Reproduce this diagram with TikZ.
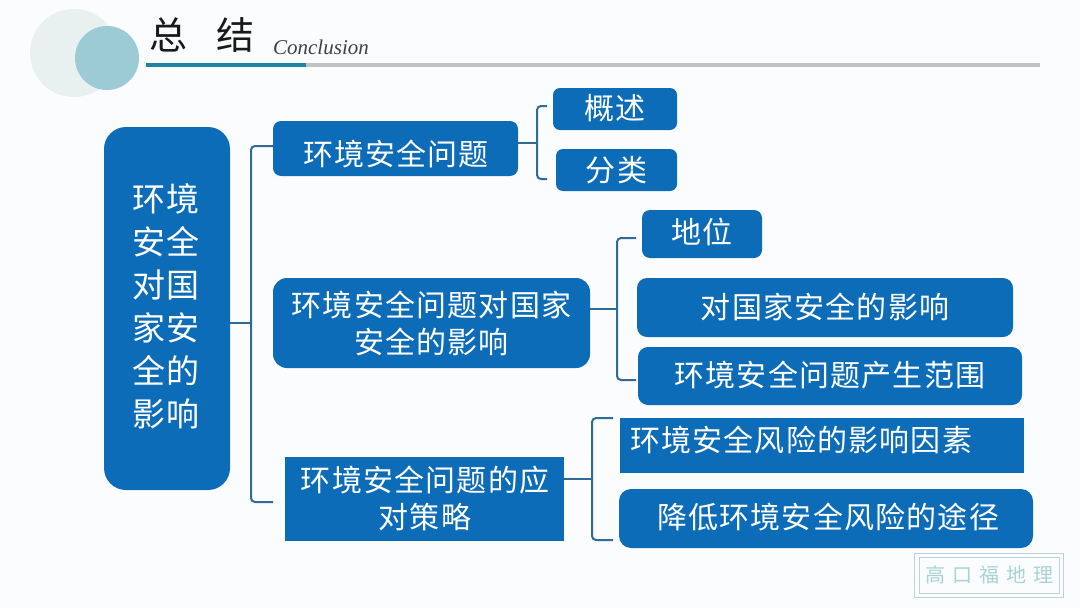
\documentclass[tikz,border=0pt]{standalone}
\usepackage{fontspec}
\setmainfont[LetterSpace=4]{Noto Sans CJK SC}
\newfontfamily\plaincjk{Noto Sans CJK SC}
\newfontfamily\latinit[ItalicFont=Liberation Serif Italic]{Liberation Serif}
\definecolor{bgc}{HTML}{FBFCFD}
\definecolor{boxblue}{HTML}{0D6CB8}
\definecolor{connc}{HTML}{2F6A98}
\definecolor{pale}{HTML}{E8F1F0}
\definecolor{ballc}{HTML}{9CCBD6}
\definecolor{tealc}{HTML}{1C86A2}
\definecolor{grayc}{HTML}{C2C2C2}
\definecolor{wmline}{HTML}{BFD3D6}
\definecolor{wmtext}{HTML}{A9D3D6}
\newcommand\tx[3]{\makebox[0pt]{\kern#1\raisebox{#2}[0pt][0pt]{\begin{tabular}{@{}c@{}}#3\end{tabular}}\kern-#1}}
\tikzset{
  x=1pt,y=-1pt,
  box/.style={fill=boxblue,draw=none,inner sep=0pt,text=white,font=\fontsize{30}{37}\selectfont},
  conn/.style={draw=connc,line width=2pt,rounded corners=4pt},
}
\begin{document}
\begin{tikzpicture}
\useasboundingbox (0,0) rectangle (1080,608);
\fill[bgc] (0,0) rectangle (1080,608);
% header
\fill[pale] (74,53) circle (44);
\fill[ballc] (107,58) circle (32);
\node[font=\plaincjk\fontsize{38}{44}\selectfont,text=black!90,inner sep=0pt] (title) at (202,35) {总\hspace{29pt}结};
\node[font=\latinit\itshape\fontsize{21}{24}\selectfont,text=black!75,inner sep=0pt] (sub) at (321,47) {Conclusion};
\fill[grayc] (306,63) rectangle (1040,67);
\fill[tealc] (146,63) rectangle (306,67);
% boxes
\node[box,rounded corners=22pt,minimum width=126pt,minimum height=363pt,font=\fontsize{33}{43}\selectfont] (main) at (167,308.5)
  {\tx{-1pt}{-8pt}{环境\\安全\\对国\\家安\\全的\\影响}};
\node[box,rounded corners=8pt,minimum width=245pt,minimum height=55pt] (A) at (395.5,148.5) {\tx{0.5pt}{-16pt}{环境安全问题}};
\node[box,rounded corners=7pt,minimum width=124pt,minimum height=42pt] (A1) at (615,109) {\tx{0pt}{-9pt}{概述}};
\node[box,rounded corners=7pt,minimum width=121pt,minimum height=42pt] (A2) at (616.5,170) {\tx{0pt}{-10pt}{分类}};
\node[box,rounded corners=14pt,minimum width=317pt,minimum height=90pt] (B) at (431.5,323) {\tx{0pt}{-11pt}{环境安全问题对国家\\安全的影响}};
\node[box,rounded corners=8pt,minimum width=120pt,minimum height=48pt] (B1) at (702,234) {\tx{0pt}{-8pt}{地位}};
\node[box,rounded corners=10pt,minimum width=376pt,minimum height=59pt] (B2) at (825,307.5) {\tx{0pt}{-10pt}{对国家安全的影响}};
\node[box,rounded corners=10pt,minimum width=384pt,minimum height=58pt] (B3) at (830,376) {\tx{0pt}{-9pt}{环境安全问题产生范围}};
\node[box,minimum width=279pt,minimum height=84pt] (C) at (424.5,499) {\tx{0.5pt}{-10pt}{环境安全问题的应\\对策略}};
\node[box,minimum width=404pt,minimum height=55pt] (C1) at (822,445.5) {\tx{-21pt}{-4.5pt}{环境安全风险的影响因素}};
\node[box,rounded corners=12pt,minimum width=414pt,minimum height=59pt] (C2) at (826,518.5) {\tx{2pt}{-9pt}{降低环境安全风险的途径}};
% free ends of the brackets
\coordinate (AT) at (547,106);
\coordinate (AB) at (547,179);
\coordinate (BT) at (636,238);
\coordinate (BB) at (636,380);
\coordinate (CT) at (613,418);
\coordinate (CB) at (613,540);
\coordinate (mainTip) at (273,502);
% connectors
\draw[conn] (A.west |- 0,146) -| (251,323) |- (mainTip);
\draw[conn,rounded corners=0pt] (main.east |- 0,323) -- (251,323);
\draw[conn] (AT) -| (537,179) -- (AB);
\draw[conn,rounded corners=0pt] (A.east |- 0,143) -- (537,143);
\draw[conn] (BT) -| (617,380) -- (BB);
\draw[conn,rounded corners=0pt] (B.east |- 0,309) -- (617,309);
\draw[conn] (CT) -| (592,540) -- (CB);
\draw[conn,rounded corners=0pt] (C.east |- 0,479) -- (592,479);
% stamp
\node[draw=wmline,line width=1pt,minimum width=149pt,minimum height=44pt,inner sep=0pt] (wmo) at (988.5,575) {};
\node[draw=wmline,line width=1pt,minimum width=140pt,minimum height=36pt,inner sep=0pt,text=wmtext,font=\plaincjk\fontsize{20}{24}\selectfont] (wmi) at (989,575) {高\hspace{7pt}口\hspace{7pt}福\hspace{7pt}地\hspace{7pt}理};
\end{tikzpicture}
\end{document}
